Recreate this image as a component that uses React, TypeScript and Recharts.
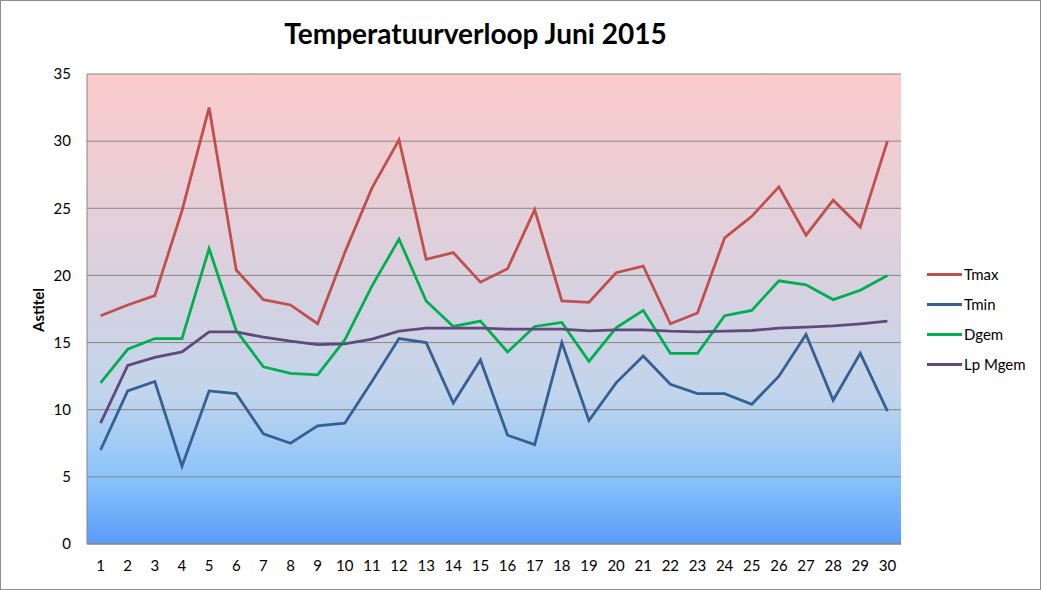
import React from 'react';
import { ComposedChart, Line, XAxis, YAxis, CartesianGrid } from 'recharts';

const days = ['1','2','3','4','5','6','7','8','9','10','11','12','13','14','15','16','17','18','19','20','21','22','23','24','25','26','27','28','29','30'];
const tmax = [17.0, 17.8, 18.5, 24.8, 32.5, 20.4, 18.2, 17.8, 16.4, 21.7, 26.5, 30.1, 21.2, 21.7, 19.5, 20.5, 24.9, 18.1, 18.0, 20.2, 20.7, 16.4, 17.2, 22.8, 24.4, 26.6, 23.0, 25.6, 23.6, 30.0];
const tmin = [7.0, 11.4, 12.1, 5.8, 11.4, 11.2, 8.2, 7.5, 8.8, 9.0, 12.1, 15.3, 15.0, 10.5, 13.7, 8.1, 7.4, 15.0, 9.2, 12.0, 14.0, 11.9, 11.2, 11.2, 10.4, 12.5, 15.6, 10.7, 14.2, 9.9];
const dgem = [12.0, 14.5, 15.3, 15.3, 22.0, 15.9, 13.2, 12.7, 12.6, 15.2, 19.2, 22.7, 18.1, 16.2, 16.6, 14.3, 16.2, 16.5, 13.6, 16.1, 17.4, 14.2, 14.2, 17.0, 17.4, 19.6, 19.3, 18.2, 18.9, 20.0];
const lpMgem = [9.0, 13.3, 13.9, 14.3, 15.8, 15.8, 15.4, 15.1, 14.85, 14.9, 15.25, 15.85, 16.07, 16.07, 16.07, 16.0, 16.0, 16.0, 15.87, 15.95, 15.95, 15.85, 15.8, 15.85, 15.9, 16.07, 16.15, 16.24, 16.4, 16.6];
const yTicks = [0, 5, 10, 15, 20, 25, 30, 35];

const seriesInfo = [
  { key: 'Tmax', color: '#c0504d' },
  { key: 'Tmin', color: '#376092' },
  { key: 'Dgem', color: '#00b050' },
  { key: 'Lp Mgem', color: '#604a7b' },
];

const data = days.map((d, i) => ({
  day: d,
  Tmax: tmax[i],
  Tmin: tmin[i],
  Dgem: dgem[i],
  'Lp Mgem': lpMgem[i],
}));

const FONT = 'Lato, "Noto Sans", sans-serif';

export default function App() {
  return (
    <div style={{ position: 'absolute', left: 0, top: 0, width: 1041, height: 590, background: '#fff' }}>
      <svg width={0} height={0} style={{ position: 'absolute' }}>
        <defs>
          <linearGradient id="plotBg" x1="0" y1="0" x2="0" y2="1">
            <stop offset="0%" stopColor="#fdcbcb" />
            <stop offset="50%" stopColor="#d3d2e2" />
            <stop offset="68%" stopColor="#c2d5ec" />
            <stop offset="86%" stopColor="#8ac4fc" />
            <stop offset="100%" stopColor="#5a9bf8" />
          </linearGradient>
        </defs>
      </svg>
      <div
        style={{
          position: 'absolute',
          left: 0,
          top: 0,
          width: 1041,
          textAlign: 'center',
          fontFamily: FONT,
          fontWeight: 700,
          fontSize: 28,
          lineHeight: '34px',
          paddingTop: 16,
          boxSizing: 'border-box',
          paddingRight: 90,
          color: '#000',
        }}
      >
        Temperatuurverloop Juni 2015
      </div>
      <div
        style={{
          position: 'absolute',
          left: 38,
          top: 310,
          transform: 'translate(-50%, -50%) rotate(-90deg)',
          fontFamily: FONT,
          fontWeight: 700,
          fontSize: 15,
          whiteSpace: 'nowrap',
          color: '#000',
        }}
      >
        Astitel
      </div>
      <ComposedChart
        width={1041}
        height={590}
        data={data}
        margin={{ top: 74, right: 140, bottom: 0, left: 0 }}
        style={{ position: 'absolute', left: 0, top: 0 }}
      >
        <CartesianGrid vertical={false} stroke="#868686" fill="url(#plotBg)" fillOpacity={1} />
        <XAxis
          dataKey="day"
          height={46}
          padding={{ left: 13.57, right: 13.57 }}
          tickSize={0}
          tickMargin={16}
          axisLine={{ stroke: '#868686' }}
          tickLine={false}
          interval={0}
          tick={{ fontSize: 15, fill: '#000', fontFamily: FONT }}
        />
        <XAxis
          xAxisId="top"
          dataKey="day"
          orientation="top"
          height={0}
          tick={false}
          tickLine={false}
          axisLine={{ stroke: '#4f81bd' }}
        />
        <YAxis
          width={87}
          domain={[0, 35]}
          ticks={yTicks}
          tickSize={0}
          tickMargin={16}
          axisLine={{ stroke: '#868686' }}
          tickLine={false}
          tick={{ fontSize: 15, fill: '#000', fontFamily: FONT }}
        />
        <YAxis
          yAxisId="right"
          orientation="right"
          width={0}
          domain={[0, 35]}
          tick={false}
          tickLine={false}
          axisLine={{ stroke: '#4f81bd' }}
        />
        {seriesInfo.map((s) => (
          <Line
            key={s.key}
            type="linear"
            dataKey={s.key}
            stroke={s.color}
            strokeWidth={2.8}
            dot={false}
            activeDot={false}
            isAnimationActive={false}
          />
        ))}
      </ComposedChart>
      <div
        style={{
          position: 'absolute',
          left: 927,
          top: 259,
          fontFamily: FONT,
          fontSize: 15,
          color: '#000',
        }}
      >
        {seriesInfo.map((s) => (
          <div key={s.key} style={{ display: 'flex', alignItems: 'center', height: 30 }}>
            <div style={{ width: 35, height: 3, background: s.color, marginRight: 2 }} />
            <span>{s.key}</span>
          </div>
        ))}
      </div>
      <div
        style={{
          position: 'absolute',
          left: 0,
          top: 0,
          width: 1041,
          height: 590,
          border: '1px solid #8c8c8c',
          boxSizing: 'border-box',
          pointerEvents: 'none',
        }}
      />
    </div>
  );
}
